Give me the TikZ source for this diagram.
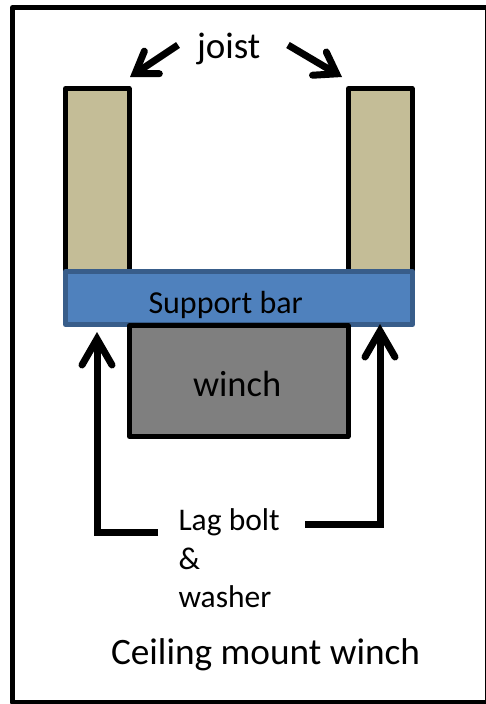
\documentclass[tikz,border=0pt]{standalone}
\usepackage{fontspec}
\setmainfont{Carlito}
\usetikzlibrary{arrows.meta}
\definecolor{joistfill}{HTML}{C4BD97}
\definecolor{barfill}{HTML}{4F81BD}
\definecolor{barline}{HTML}{385D8A}
\definecolor{winchfill}{HTML}{7F7F7F}
\tikzset{
  x=1pt,y=-1pt,
  box/.style={draw=black,line width=5pt,line join=round,inner sep=0pt,outer sep=0pt,anchor=north west},
  label/.style={inner sep=0pt,outer sep=0pt,text=black,anchor=base west},
  pointer/.style={draw=black,line width=7pt,line cap=butt,-{Straight Barb[length=20pt,width=27pt,line cap=round,line join=miter]}},
  bigpointer/.style={draw=black,line width=7pt,line cap=butt,-{Straight Barb[length=26pt,width=30pt,line cap=round,line join=miter]}},
  leader/.style={draw=black,line width=7pt,line cap=butt},
}
\begin{document}
\begin{tikzpicture}
\useasboundingbox (0,0) rectangle (485,704);
\fill[white] (0,0) rectangle (485,704);
\node[box,minimum width=475pt,minimum height=695pt] (frame) at (12.5,7.5) {};
\node[box,fill=joistfill,minimum width=63.5pt,minimum height=184pt] (jl) at (65.5,88.5) {};
\node[box,fill=joistfill,minimum width=63.5pt,minimum height=184pt] (jr) at (348.5,88.5) {};
\node[box,draw=barline,fill=barfill,minimum width=347pt,minimum height=53pt] (bar) at (65.5,271.5) {};
\node[box,fill=winchfill,minimum width=218.5pt,minimum height=111pt] (winch) at (129.5,325.5) {};
\node[label,font=\fontsize{32}{32}\selectfont] (sb) at (148.5,313) {Support bar};
\node[label,font=\fontsize{36.5}{36.5}\selectfont] (wl) at (193,396) {winch};
\node[label,font=\fontsize{37}{37}\selectfont] (jt) at (197,58) {joist};
\node[label,font=\fontsize{31.5}{31.5}\selectfont] (lag) at (178.5,530) {Lag bolt};
\node[label,font=\fontsize{31.5}{31.5}\selectfont] (amp) at (178.5,569) {\&};
\node[label,font=\fontsize{31.5}{31.5}\selectfont] (wash) at (178.5,607) {washer};
\node[label,font=\fontsize{37.3}{37.3}\selectfont] (title) at (111,664) {Ceiling mount winch};
\coordinate (a1s) at (178,45);
\coordinate (a1e) at (130,77);
\coordinate (a2s) at (288,45);
\coordinate (a2e) at (342,77);
\draw[pointer] (a1s) -- (a1e);
\draw[pointer] (a2s) -- (a2e);
\coordinate (l1) at (158,532);
\coordinate (l2) at (97,532);
\coordinate (l3) at (97,332);
\coordinate (r1) at (305,524);
\coordinate (r2) at (380,524);
\coordinate (r3) at (380,324);
\draw[leader] (l1) -- (l2);
\draw[bigpointer] ([yshift=-3.5pt]l2) -- (l3);
\draw[leader] (r1) -- (r2);
\draw[bigpointer] ([yshift=-3.5pt]r2) -- (r3);
\end{tikzpicture}
\end{document}
